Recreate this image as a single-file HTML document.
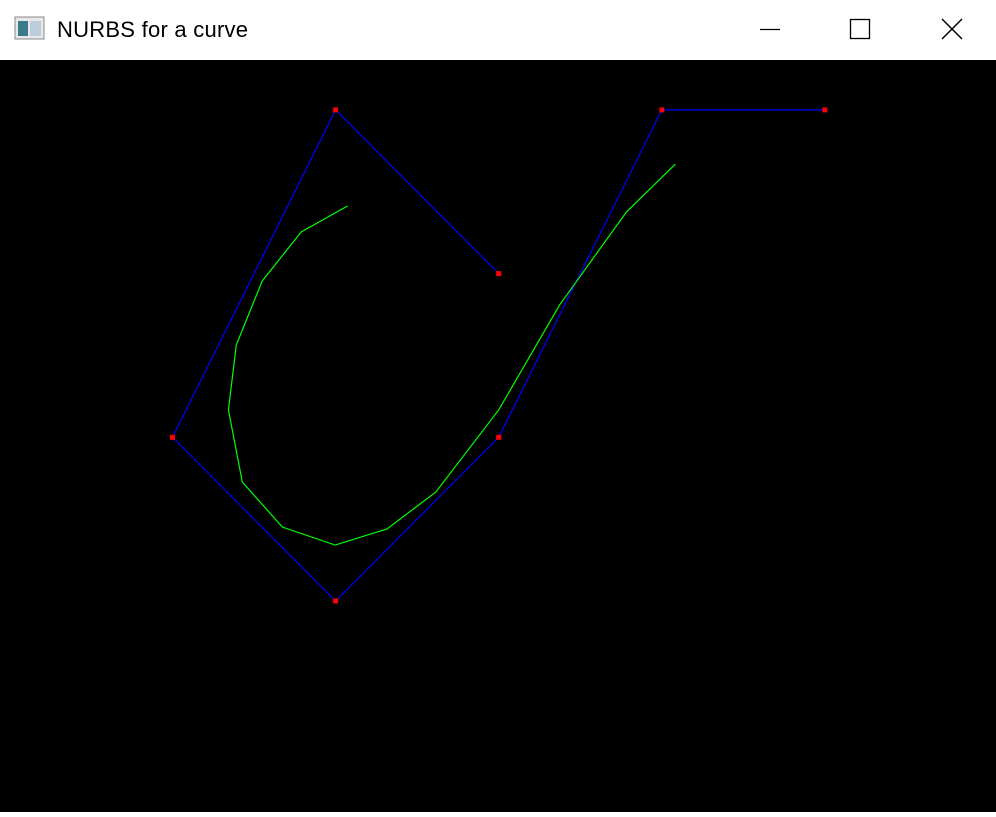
<!DOCTYPE html>
<html><head><meta charset="utf-8"><style>
html,body{margin:0;padding:0;width:996px;height:812px;overflow:hidden;background:#fff;font-family:"Liberation Sans",sans-serif}
#title{position:absolute;left:0;top:0;width:996px;height:60px;background:#fff}
#canvas{position:absolute;left:0;top:60px;width:996px;height:752px;background:#000}
</style></head><body>
<div id="title">
<svg width="996" height="60" style="position:absolute;left:0;top:0">
<g>
<rect x="15" y="17" width="29" height="22" fill="#e8e8e8" stroke="#888"/>
<rect x="18" y="21" width="10" height="15" fill="#3a7a8a"/>
<rect x="30" y="21" width="11" height="15" fill="#bcd"/>
</g>
<text x="57" y="37" font-size="22" textLength="191" fill="#000" font-family="Liberation Sans, sans-serif">NURBS for a curve</text>
<line x1="760" y1="29.5" x2="780" y2="29.5" stroke="#000" stroke-width="1.3"/>
<rect x="850.5" y="19.5" width="19" height="19" fill="none" stroke="#000" stroke-width="1.3"/>
<g stroke="#000" stroke-width="1.5">
<line x1="942" y1="19" x2="962" y2="39"/><line x1="962" y1="19" x2="942" y2="39"/></g>
</svg>
</div>
<div id="canvas">
<svg id="plot" width="996" height="752"></svg>
</div>
<script>
const ctrlX=[2,1,0,1,2,3,4];
const ctrlY=[2,3,1,0,1,3,3];
const curveX=[1.073,0.789,0.550,0.391,0.343,0.428,0.673,0.997,1.315,1.615,2.000,2.373,2.783,3.083];
const curveY=[2.413,2.254,1.955,1.564,1.167,0.727,0.452,0.342,0.440,0.666,1.167,1.808,2.376,2.669];
const sx=v=>172.5+v*163.1;
const sy=v=>541-v*163.7;
const svg=document.getElementById('plot');
const NS='http://www.w3.org/2000/svg';
const poly=document.createElementNS(NS,'polyline');
poly.setAttribute('points',ctrlX.map((x,i)=>sx(x)+','+sy(ctrlY[i])).join(' '));
poly.setAttribute('fill','none');poly.setAttribute('stroke','#0000ff');poly.setAttribute('stroke-width','1.2');


svg.appendChild(poly);
const cur=document.createElementNS(NS,'polyline');
cur.setAttribute('points',curveX.map((x,i)=>sx(x)+','+sy(curveY[i])).join(' '));
cur.setAttribute('fill','none');cur.setAttribute('stroke','#00ff00');cur.setAttribute('stroke-width','1.2');


svg.appendChild(cur);
ctrlX.forEach((x,i)=>{
const r=document.createElementNS(NS,'rect');
r.setAttribute('x',sx(x)-2.5);r.setAttribute('y',sy(ctrlY[i])-2.5);
r.setAttribute('width',5);r.setAttribute('height',5);r.setAttribute('fill','#ff0000');


svg.appendChild(r);
});
</script>
</body></html>
